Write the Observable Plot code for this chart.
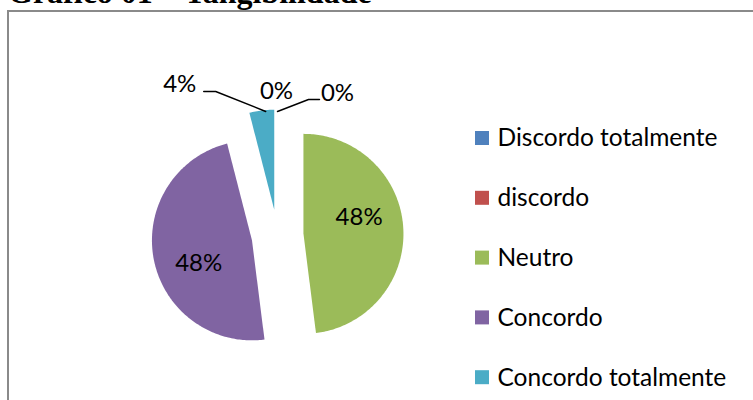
<!DOCTYPE html>
<html>
<head>
<meta charset="utf-8">
<script src="https://cdn.jsdelivr.net/npm/d3@7"></script>
<script src="https://cdn.jsdelivr.net/npm/@observablehq/plot@0.6"></script>
<style>
  html, body { margin: 0; padding: 0; background: #fff; }
  #wrap { position: relative; width: 753px; height: 400px; overflow: hidden; background: #fff; }
  #title { position: absolute; left: 8px; top: -24px; font-family: "Liberation Serif", serif; font-weight: bold; font-size: 32px; line-height: 32px; white-space: nowrap; color: #000; }
  #box { position: absolute; left: 7px; top: 10px; width: 770px; height: 420px; border: 2px solid #8a8a8a; box-sizing: border-box; }
  #chart { position: absolute; left: 0; top: 0; }
</style>
</head>
<body>
<div id="wrap">
  <div id="title">Gráfico 01 – Tangibilidade</div>
  <div id="box"></div>
  <div id="chart"></div>
</div>
<script>
// ---- data ----
const categories = ["Discordo totalmente", "discordo", "Neutro", "Concordo", "Concordo totalmente"];
const percents = [0, 0, 48, 48, 4];
const colors = ["#4F81BD", "#C0504D", "#9BBB59", "#8064A2", "#4BACC6"];

// ---- layout ----
const W = 753, H = 400;
const CX = 277, CY = 235, R = 100, EXPLODE = 26;
const FONT = "Lato, 'Open Sans', sans-serif";
const FS = 24;
const LFS = 24.5;
const insideDist = 0.58, insideRot = -12.6 * Math.PI / 180;
const outside = {
  "Discordo totalmente": {label: [-1, -18], leader: null},
  "discordo": {label: [60, -16], leader: [[0, 2], [31, -10], [42, -10]]},
  "Concordo totalmente": {label: [-82, -26], leader: [[4, 1], [-46, -19], [-58, -19]]}
};
const legendX = 475, legendY0 = 138, legendStep = 59.8, sw = 14;

const arcs = d3.pie().sort(null).value(d => d)(percents);
const dir = a => [Math.sin(a), -Math.cos(a)];

const wedges = [];
const inLabels = [];
const outLabels = [];
const leaders = [];
arcs.forEach((a, i) => {
  const cat = categories[i];
  const mid = (a.startAngle + a.endAngle) / 2;
  const [ux, uy] = dir(mid);
  const vx = CX + EXPLODE * ux, vy = CY + EXPLODE * uy;
  if (a.value > 0) {
    wedges.push({cat, x: vx, y: vy});
    const n = Math.max(4, Math.ceil((a.endAngle - a.startAngle) * 60));
    for (let k = 0; k <= n; k++) {
      const t = a.startAngle + (a.endAngle - a.startAngle) * k / n;
      const [dx, dy] = dir(t);
      wedges.push({cat, x: vx + R * dx, y: vy + R * dy});
    }
    wedges.push({cat, x: vx, y: vy});
  }
  const text = `${percents[i]}%`;
  if (percents[i] >= 10) {
    const [lx, ly] = dir(mid + insideRot);
    inLabels.push({text, x: vx + insideDist * R * lx, y: vy + insideDist * R * ly});
  } else {
    const ax = vx + R * ux, ay = vy + R * uy;
    const o = outside[cat];
    outLabels.push({text, x: ax + o.label[0], y: ay + o.label[1]});
    if (o.leader) o.leader.forEach(([dx, dy]) => leaders.push({cat, x: ax + dx, y: ay + dy}));
  }
});

const legend = categories.map((cat, i) => ({cat, y: legendY0 + i * legendStep}));

const plot = Plot.plot({
  width: W, height: H, margin: 0,
  x: {domain: [0, W], range: [0, W], axis: null},
  y: {domain: [0, H], range: [0, H], axis: null},
  color: {domain: categories, range: colors},
  style: {background: "transparent", fontFamily: FONT},
  marks: [
    Plot.line(wedges, {x: "x", y: "y", z: "cat", fill: "cat", stroke: null, curve: "linear"}),
    Plot.line(leaders, {x: "x", y: "y", z: "cat", stroke: "#000", strokeWidth: 1.4}),
    Plot.text(inLabels, {x: "x", y: "y", text: "text", fontSize: FS, fontFamily: FONT, fill: "#000"}),
    Plot.text(outLabels, {x: "x", y: "y", text: "text", fontSize: FS, fontFamily: FONT, fill: "#000"}),
    Plot.rect(legend, {x1: legendX, x2: legendX + sw, y1: d => d.y - sw / 2, y2: d => d.y + sw / 2, fill: "cat"}),
    Plot.text(legend, {x: legendX + sw + 8, y: "y", text: "cat", textAnchor: "start", fontSize: LFS, fontFamily: FONT, fill: "#000"})
  ]
});
document.getElementById("chart").appendChild(plot);
</script>
</body>
</html>
